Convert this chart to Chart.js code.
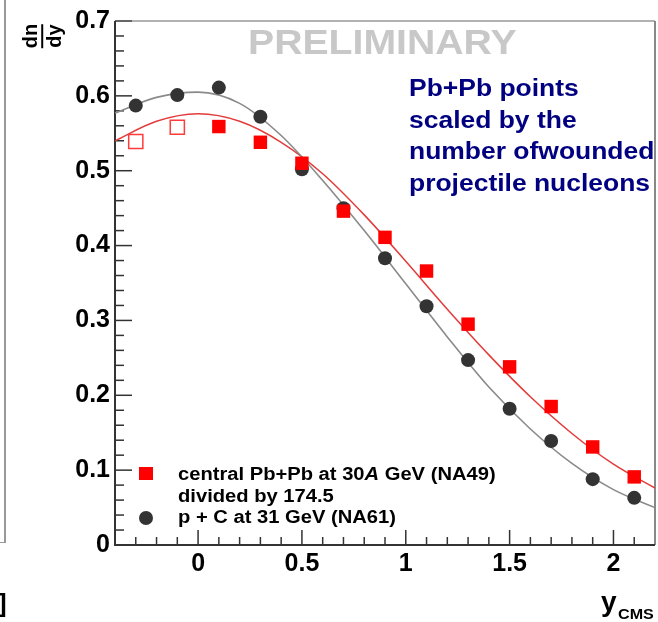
<!DOCTYPE html>
<html>
<head>
<meta charset="utf-8">
<script src="https://cdn.jsdelivr.net/npm/chart.js@4.4.1/dist/chart.umd.min.js"></script>
<style>
  body { margin: 0; background: #fff; }
  #wrap { position: relative; width: 658px; height: 622px; overflow: hidden;
          font-family: "Liberation Sans", Arial, sans-serif; font-weight: bold; }
  #wrap canvas { position: absolute; left: 0; top: 0; }
  .txt { position: absolute; white-space: nowrap; transform-origin: 0 0; }
  #frac { position: absolute; left: 30px; top: 13px; font-size: 20px; line-height: 22px;
          text-align: center; transform: rotate(-90deg); }
  #frac .bar { height: 2px; background: #000; }
</style>
</head>
<body>
<div id="wrap">
  <canvas id="myChart" width="658" height="622"></canvas>

  <!-- remnant of the neighbouring panel on the left -->
  <div style="position:absolute;left:0;top:0;width:4px;height:542px;border-right:2px solid #999;border-bottom:1px solid #999;"></div>
  <div class="txt" style="left:-2px;top:590px;font-size:26px;line-height:26px;">]</div>

  <div id="frac"><div>dn</div><div class="bar"></div><div>dy</div></div>

  <div class="txt" style="left:248px;top:24px;font-size:35px;line-height:35px;color:#c8c8c8;transform:scaleX(1.12);">PRELIMINARY</div>

  <div class="txt" style="left:409px;top:73px;font-size:23px;line-height:31.7px;color:#000080;transform:scaleX(1.15);">
    Pb+Pb points<br>scaled by the<br>number ofwounded<br>projectile nucleons
  </div>

  <!-- legend -->
  <div style="position:absolute;left:139px;top:467px;width:14px;height:13px;background:#ff0000;"></div>
  <div style="position:absolute;left:139px;top:511px;width:14px;height:14px;border-radius:50%;background:#333;"></div>
  <div class="txt" style="left:178px;top:464px;font-size:18px;line-height:21.5px;transform:scaleX(1.12);">
    central Pb+Pb at 30<i>A</i> GeV (NA49)<br>divided by 174.5<br>p + C at 31 GeV (NA61)
  </div>

  <div class="txt" style="left:601px;top:588px;font-size:28px;line-height:28px;">y<span style="font-size:14px;display:inline-block;position:relative;top:8px;transform:scaleX(1.15);transform-origin:0 0;margin-left:1px;">CMS</span></div>
</div>

<script>
// NA49 central Pb+Pb at 30A GeV, divided by 174.5 (open = reflected points)
const pbOpenX = [-0.3, -0.1];
const pbOpenY = [0.539, 0.558];
const pbX = [0.1, 0.3, 0.5, 0.7, 0.9, 1.1, 1.3, 1.5, 1.7, 1.9, 2.1];
const pbY = [0.559, 0.538, 0.510, 0.446, 0.411, 0.366, 0.295, 0.238, 0.185, 0.131, 0.091];

// NA61 p + C at 31 GeV
const pcX = [-0.3, -0.1, 0.1, 0.3, 0.5, 0.7, 0.9, 1.1, 1.3, 1.5, 1.7, 1.9, 2.1];
const pcY = [0.587, 0.601, 0.611, 0.572, 0.502, 0.450, 0.383, 0.319, 0.247, 0.182, 0.139, 0.088, 0.063];

// fit curves
const fitX = [-0.4, -0.2, 0, 0.2, 0.4, 0.6, 0.8, 1.0, 1.2, 1.4, 1.6, 1.8, 2.0, 2.2];
const fitGray = [0.577, 0.598, 0.605, 0.590, 0.547, 0.487, 0.420, 0.349, 0.278, 0.211, 0.155, 0.109, 0.074, 0.050];
const fitRed = [0.540, 0.566, 0.576, 0.566, 0.538, 0.496, 0.441, 0.379, 0.315, 0.254, 0.198, 0.149, 0.108, 0.076];

const toPts = (xs, ys) => xs.map((x, i) => ({ x: x, y: ys[i] }));

//------------- frame + inward ticks (ROOT style) -------------
const framePlugin = {
  id: "frame",
  beforeDatasetsDraw(chart) {
    const { ctx, chartArea: a, scales } = chart;
    ctx.save();
    // y ticks
    ctx.strokeStyle = "#333";
    ctx.lineWidth = 1.5;
    scales.y.ticks.forEach((t) => {
      const py = scales.y.getPixelForValue(t.value);
      const major = Math.abs(t.value * 10 - Math.round(t.value * 10)) < 1e-6;
      ctx.beginPath();
      ctx.moveTo(a.left, py);
      ctx.lineTo(a.left + (major ? 17 : 9), py);
      ctx.stroke();
    });
    // x ticks
    scales.x.ticks.forEach((t) => {
      const px = scales.x.getPixelForValue(t.value);
      const major = Math.abs(t.value * 2 - Math.round(t.value * 2)) < 1e-6;
      ctx.beginPath();
      ctx.moveTo(px, a.bottom);
      ctx.lineTo(px, a.bottom - (major ? 15 : 8));
      ctx.stroke();
    });
    // top and right (gray)
    ctx.strokeStyle = "#666";
    ctx.lineWidth = 1.2;
    ctx.beginPath();
    ctx.moveTo(a.left, a.top);
    ctx.lineTo(a.right, a.top);
    ctx.stroke();
    ctx.strokeStyle = "#888";
    ctx.lineWidth = 2;
    ctx.beginPath();
    ctx.moveTo(a.right, a.top);
    ctx.lineTo(a.right, a.bottom);
    ctx.stroke();
    // left and bottom axes
    ctx.strokeStyle = "#333";
    ctx.lineWidth = 2;
    ctx.beginPath();
    ctx.moveTo(a.left, a.top);
    ctx.lineTo(a.left, a.bottom);
    ctx.lineTo(a.right, a.bottom);
    ctx.stroke();
    ctx.restore();
  },
};

const data = {
  datasets: [
    {
      label: "central Pb+Pb at 30A GeV (NA49)",
      data: toPts(pbX, pbY),
      pointStyle: "rect",
      pointRadius: 9.5,
      backgroundColor: "#ff0000",
      borderColor: "#ff0000",
      borderWidth: 0,
      showLine: false,
      order: 0,
    },
    {
      label: "reflected",
      data: toPts(pbOpenX, pbOpenY),
      pointStyle: "rect",
      pointRadius: 10,
      backgroundColor: "#ffffff",
      borderColor: "#ff3b3b",
      borderWidth: 1.5,
      showLine: false,
      order: 1,
    },
    {
      label: "p + C at 31 GeV (NA61)",
      data: toPts(pcX, pcY),
      pointStyle: "circle",
      pointRadius: 7,
      backgroundColor: "#333333",
      borderWidth: 0,
      showLine: false,
      order: 2,
    },
    {
      label: "fit p+C",
      data: toPts(fitX, fitGray),
      showLine: true,
      pointRadius: 0,
      borderColor: "#8a8a8a",
      borderWidth: 1.6,
      cubicInterpolationMode: "monotone",
      order: 3,
    },
    {
      label: "fit Pb+Pb",
      data: toPts(fitX, fitRed),
      showLine: true,
      pointRadius: 0,
      borderColor: "#e33a3a",
      borderWidth: 1.5,
      cubicInterpolationMode: "monotone",
      order: 3,
    },
  ],
};

const tickFont = { family: "'Liberation Sans', Arial, sans-serif", size: 25, weight: "bold" };

const config = {
  type: "scatter",
  data,
  options: {
    responsive: false,
    animation: false,
    layout: { autoPadding: false, padding: { top: 21, right: 3, left: 0, bottom: 0 } },
    plugins: { legend: { display: false }, tooltip: { enabled: false } },
    scales: {
      x: {
        type: "linear",
        min: -0.4,
        max: 2.2,
        grid: { display: false, drawTicks: false },
        border: { display: false },
        ticks: {
          stepSize: 0.1,
          autoSkip: false,
          maxRotation: 0,
          padding: 4,
          color: "#000",
          font: tickFont,
          callback: (v) => {
            if (Math.abs(v * 2 - Math.round(v * 2)) > 1e-6) return "";
            return Math.abs(v - Math.round(v)) < 1e-6 ? String(Math.round(v)) : v.toFixed(1);
          },
        },
        afterFit: (s) => {
          s.height = 77;
          s.paddingLeft = 0;
          s.paddingRight = 0;
        },
      },
      y: {
        min: 0,
        max: 0.7,
        grid: { display: false, drawTicks: false },
        border: { display: false },
        ticks: {
          stepSize: 0.02,
          autoSkip: false,
          padding: 5,
          color: "#000",
          font: tickFont,
          callback: (v) => {
            if (Math.abs(v * 10 - Math.round(v * 10)) > 1e-6) return "";
            return Math.abs(v) < 1e-6 ? "0" : v.toFixed(1);
          },
        },
        afterFit: (s) => {
          s.width = 115;
          s.paddingTop = 0;
          s.paddingBottom = 0;
        },
      },
    },
  },
  plugins: [framePlugin],
};

new Chart(document.getElementById("myChart"), config);
</script>
</body>
</html>
